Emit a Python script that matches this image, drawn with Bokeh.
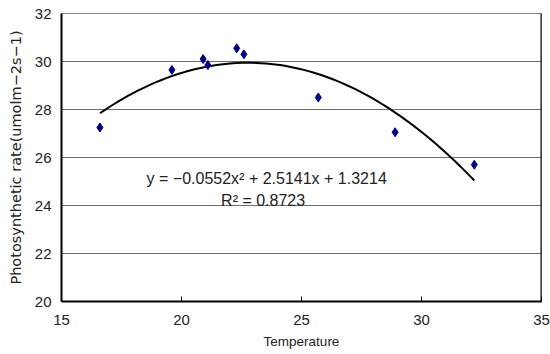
import numpy as np
from bokeh.plotting import figure
from bokeh.models import ColumnDataSource, Range1d, FixedTicker, Span, Label
from bokeh.embed import file_html
from bokeh.resources import INLINE

# Data
temperature = [16.6, 19.6, 20.9, 21.1, 22.3, 22.6, 25.7, 28.9, 32.2]
rate = [27.25, 29.65, 30.1, 29.85, 30.55, 30.3, 28.5, 27.05, 25.7]

# Polynomial trendline coefficients as printed on the chart
trend_coef = [-0.0552, 2.5141, 1.3214]
r_squared = 0.8723

x_ticks = [15, 20, 25, 30, 35]
y_ticks = [20, 22, 24, 26, 28, 30, 32]

trend_x = np.linspace(min(temperature), max(temperature), 80)
trend_y = np.polyval(trend_coef, trend_x)

p = figure(
    output_backend="svg", toolbar_location=None,
    frame_width=480, frame_height=288,
    min_border_left=61, min_border_right=9, min_border_top=13, min_border_bottom=53,
    x_range=Range1d(15, 35), y_range=Range1d(20, 32),
    background_fill_color="white", border_fill_color="white",
)
p.outline_line_color = "#808080"
p.outline_line_width = 1

FONT = "Liberation Sans"

p.xgrid.visible = False
p.ygrid.ticker = FixedTicker(ticks=y_ticks)
p.ygrid.grid_line_color = "#6e6e6e"
p.ygrid.grid_line_width = 1

p.xaxis.ticker = FixedTicker(ticks=x_ticks)
p.yaxis.ticker = FixedTicker(ticks=y_ticks)
for ax in (p.xaxis[0], p.yaxis[0]):
    ax.axis_line_color = "black"
    ax.axis_line_width = 2
    ax.minor_tick_line_color = None
    ax.major_label_text_font = FONT
    ax.major_label_text_font_size = "15px"
    ax.major_label_text_color = "#222222"
    ax.axis_label_text_font_style = "normal"
    ax.axis_label_text_color = "#222222"

p.xaxis.major_tick_in = 5
p.xaxis.major_tick_out = 0
p.xaxis.major_tick_line_color = "black"
p.xaxis.major_label_standoff = 13
p.xaxis.axis_label = "Temperature"
p.xaxis.axis_label_text_font = FONT
p.xaxis.axis_label_text_font_size = "13.5px"
p.xaxis.axis_label_standoff = 6

p.yaxis.major_tick_in = 0
p.yaxis.major_tick_out = 0
p.yaxis.major_label_standoff = 10
p.yaxis.axis_label = "Photosynthetic rate(umolm\u22122s\u22121)"
p.yaxis.axis_label_text_font = "DejaVu Sans"
p.yaxis.axis_label_text_font_size = "14.5px"
p.yaxis.axis_label_standoff = 8

# right frame edge in black
p.add_layout(Span(location=35, dimension="height", line_color="black", line_width=2))

src = ColumnDataSource(dict(x=temperature, y=rate))
p.line(trend_x, trend_y, line_color="black", line_width=2)
p.scatter("x", "y", source=src, marker="diamond", size=9,
          fill_color="#000080", line_color="#000080")

eq = "y = \u22120.0552x\u00b2 + 2.5141x + 1.3214"
p.add_layout(Label(x=23.55, y=25.12, text=eq, text_align="center", text_baseline="middle",
                   text_font=FONT, text_font_size="16px", text_color="#222222"))
p.add_layout(Label(x=23.4, y=24.22, text="R\u00b2 = %.4f" % r_squared, text_align="center",
                   text_baseline="middle", text_font=FONT, text_font_size="16px",
                   text_color="#222222"))

open("out.html", "w").write(file_html(p, INLINE))
